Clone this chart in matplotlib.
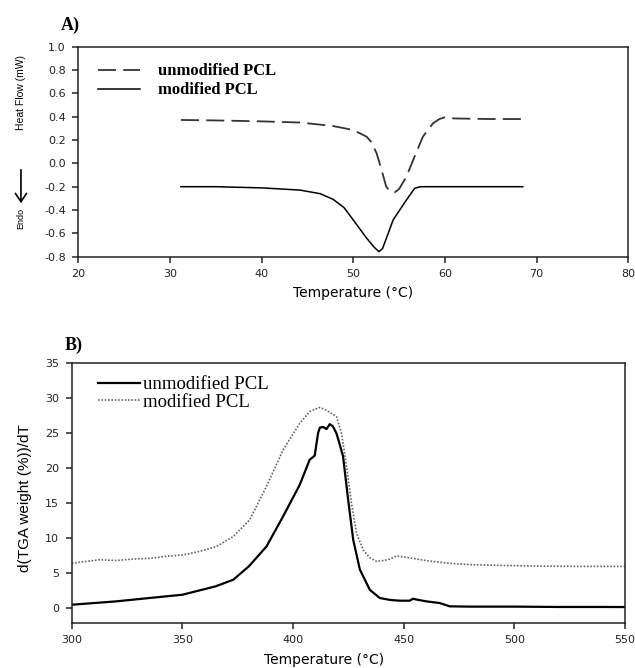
import numpy as np
import matplotlib
matplotlib.use("Agg")
import matplotlib.pyplot as plt

plt.rcParams['font.family'] = ['DejaVu Sans']
plt.rcParams['axes.unicode_minus'] = False

# (A) DSC curves
dsc_t_unmod = [31.2, 35, 40, 44.2, 47.8, 50.0, 51.45, 52.0, 52.55, 53.1, 53.6,
               54.0, 54.5, 55.0, 55.8, 56.7, 57.6, 58.7, 59.4, 60.0, 61.0, 65.0, 68.3]
dsc_hf_unmod = [0.372, 0.368, 0.36, 0.35, 0.32, 0.286, 0.229, 0.18, 0.086, -0.06, -0.20,
                -0.24, -0.25, -0.22, -0.114, 0.06, 0.229, 0.343, 0.38, 0.395, 0.385, 0.38, 0.38]
dsc_t_mod = [31.2, 35, 40, 44.2, 46.4, 47.8, 49.0, 50.0, 51.45, 52.3, 52.8,
             53.2, 54.35, 55.8, 56.7, 57.3, 60, 65, 68.5]
dsc_hf_mod = [-0.2, -0.2, -0.21, -0.229, -0.26, -0.308, -0.38, -0.485, -0.64, -0.72, -0.757,
              -0.73, -0.485, -0.314, -0.214, -0.2, -0.2, -0.2, -0.2]

# (B) DTG curves
tga_t_unmod = [300, 320, 335, 350, 365, 373, 380, 388, 395.5, 403, 407.5, 409.8, 411.3,
               412.1, 413.6, 415.1, 416.6, 418, 419.6, 421, 422.6, 424.9, 427.2, 430.2,
               434.7, 439.2, 444, 448.2, 452.7, 454.2, 456, 460.3, 466.3, 470.8, 480,
               500, 520, 540, 550]
tga_d_unmod = [0.47, 0.95, 1.43, 1.9, 3.1, 4.05, 5.95, 8.8, 13.1, 17.6, 21.2, 21.8, 25.0,
               25.8, 25.9, 25.6, 26.3, 26.0, 25.0, 23.5, 21.7, 15.5, 9.75, 5.5,
               2.6, 1.43, 1.15, 1.05, 1.05, 1.33, 1.2, 0.95, 0.71, 0.24, 0.2,
               0.2, 0.15, 0.15, 0.14]
tga_t_mod = [300, 305, 312.6, 320, 327.7, 335, 342.8, 350.3, 357.8, 365.4, 372.9, 380.4,
             388, 395.5, 403, 407.5, 412.1, 415.1, 419.6, 421.9, 424.2, 426.4, 428.7,
             431.7, 434.7, 437.8, 441, 443.8, 446.8, 450, 455.9, 462, 470.8, 480,
             493.4, 510, 530, 550]
tga_d_mod = [6.4, 6.6, 6.9, 6.8, 7.0, 7.1, 7.4, 7.6, 8.1, 8.8, 10.2, 12.6,
             17.4, 22.6, 26.4, 28.1, 28.7, 28.3, 27.4, 25.0, 20.2, 15.0, 10.7,
             8.3, 7.2, 6.65, 6.8, 7.0, 7.45, 7.3, 7.0, 6.7, 6.4, 6.2,
             6.1, 6.0, 5.95, 5.95]

legend_labels = ["unmodified PCL", "modified PCL"]
yticks_A = [-0.8, -0.6, -0.4, -0.2, 0.0, 0.2, 0.4, 0.6, 0.8, 1.0]

fig = plt.figure(figsize=(6.35, 6.68), dpi=100)
axA = fig.add_axes([0.1233, 0.6157, 0.866, 0.3144])
axB = fig.add_axes([0.1129, 0.0678, 0.8714, 0.3883])

# ---- panel A
lA1, = axA.plot(dsc_t_unmod, dsc_hf_unmod, color='#333333', lw=1.3, dashes=(10, 4))
lA2, = axA.plot(dsc_t_mod, dsc_hf_mod, color='black', lw=1.1)
axA.set_xlim(20, 80)
axA.set_ylim(-0.8, 1.0)
axA.set_xticks(np.arange(20, 81, 10))
axA.set_yticks(yticks_A)
axA.set_yticklabels([f"{v:.1f}" for v in yticks_A])
axA.set_xlabel("Temperature (°C)", fontsize=10)
axA.xaxis.set_label_coords(0.5, -0.173)
axA.xaxis.label.set_va('center')
axA.set_ylabel("Heat Flow (mW)", family='Liberation Sans', fontsize=7.5, va='center')
axA.yaxis.set_label_coords(-0.104, 0.784)
axA.text(-0.015, 1.10, "A)", transform=axA.transAxes, ha='center', va='center',
         family='Liberation Serif', weight='bold', fontsize=13)
axA.legend([lA1, lA2], legend_labels, loc='upper left', bbox_to_anchor=(0.036, 0.92),
           frameon=False, borderpad=0, borderaxespad=0, handlelength=2.5,
           handletextpad=1.1, labelspacing=0.18,
           prop={'family': 'Liberation Serif', 'weight': 'bold', 'size': 12})
# Endo arrow
fig.text(0.033, 0.6737, "Endo", rotation=90, ha='center', va='center',
         family='Liberation Sans', fontsize=6.5)
fig.add_artist(matplotlib.patches.FancyArrowPatch((0.033, 0.75), (0.033, 0.6916),
               transform=fig.transFigure, arrowstyle='->,head_width=4,head_length=6',
               mutation_scale=1, lw=1.2, color='black'))

# ---- panel B
lB1, = axB.plot(tga_t_unmod, tga_d_unmod, color='black', lw=1.6)
lB2, = axB.plot(tga_t_mod, tga_d_mod, color='#666666', lw=1.2, ls=(0, (1, 1)))
axB.set_xlim(300, 550)
axB.set_ylim(-2.1, 35)
axB.set_xticks(np.arange(300, 551, 50))
axB.set_yticks(np.arange(0, 36, 5))
axB.set_xlabel("Temperature (°C)", fontsize=10)
axB.xaxis.set_label_coords(0.456, -0.144)
axB.xaxis.label.set_va('center')
axB.set_ylabel("d(TGA weight (%))/dT", family='Liberation Sans', fontsize=11, va='center')
axB.yaxis.set_label_coords(-0.084, 0.48)
axB.text(0.004, 1.07, "B)", transform=axB.transAxes, ha='center', va='center',
         family='Liberation Serif', weight='bold', fontsize=13)
axB.legend([lB1, lB2], legend_labels, loc='upper left', bbox_to_anchor=(0.047, 0.95),
           frameon=False, borderpad=0, borderaxespad=0, handlelength=2.24,
           handletextpad=0.15, labelspacing=0.0,
           prop={'family': 'Liberation Serif', 'size': 13.5})

for ax in (axA, axB):
    for s in ax.spines.values():
        s.set_linewidth(1.1)
        s.set_color('#222222')
    ax.tick_params(direction='out', length=4, width=1.1, labelsize=8, pad=5,
                   top=False, right=False, colors='#222222')

fig.savefig("out.png", dpi=100)
